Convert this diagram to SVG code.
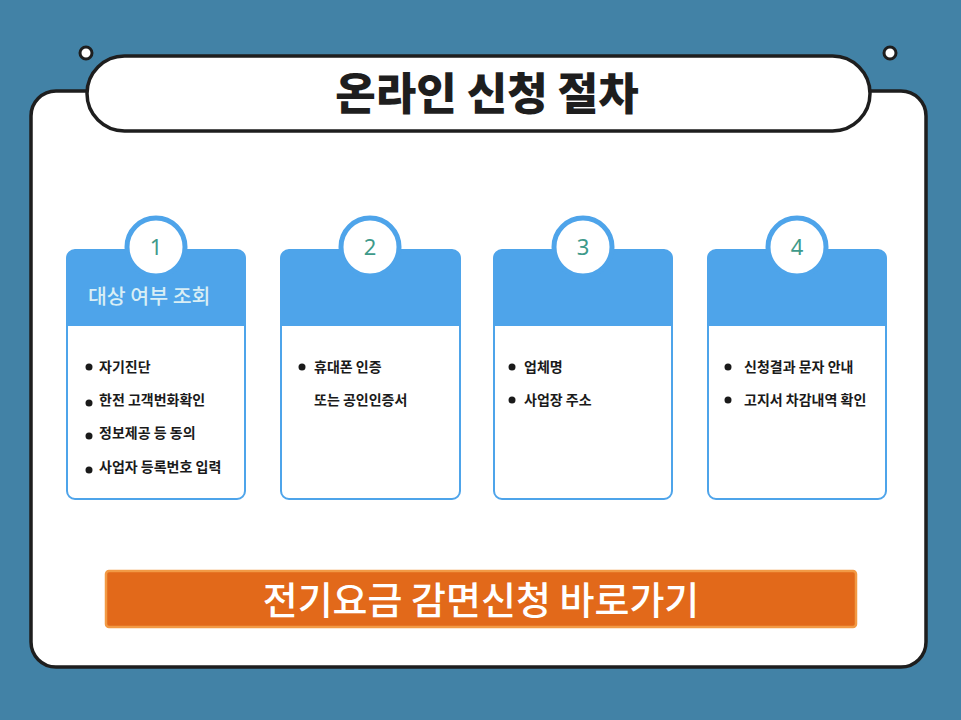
<svg xmlns="http://www.w3.org/2000/svg" width="961" height="720" viewBox="0 0 961 720">
<style>
.card{fill:#fff;stroke:#4EA4EA;stroke-width:2}
.hdr{fill:#4EA4EA}
.num{font-family:"Noto Sans",sans-serif;font-size:22px;fill:#3E9A8A;text-anchor:middle}
.it{font-family:"Noto Sans CJK KR",sans-serif;font-size:14px;font-weight:700;fill:#1a1a1a}
.ring{fill:#fff;stroke:#4EA4EA;stroke-width:5}
</style>
<rect width="961" height="720" fill="#4282A6"/>
<g id="panel"><rect x="31" y="91" width="895" height="576" rx="25" fill="#fff" stroke="#1e1e1e" stroke-width="3.5"/></g>
<g id="title">
<circle cx="86" cy="53" r="6" fill="#fff" stroke="#1e1e1e" stroke-width="3"/>
<circle cx="890" cy="53" r="6" fill="#fff" stroke="#1e1e1e" stroke-width="3"/>
<rect x="87" y="56" width="783" height="75" rx="37.5" fill="#fff" stroke="#1e1e1e" stroke-width="3.5"/>
<text x="487" y="110" font-family="Noto Sans CJK KR,sans-serif" font-size="44" font-weight="900" fill="#1e1e1e" text-anchor="middle">온라인 신청 절차</text>
</g>
<g id="card1">
<rect class="card" x="67" y="250" width="178" height="249" rx="8"/>
<path class="hdr" d="M67 326V258a8 8 0 0 1 8-8h162a8 8 0 0 1 8 8v68z"/>
<circle class="ring" cx="156" cy="247" r="29"/>
<text class="num" x="156" y="255">1</text>
<text x="88" y="304" font-family="Noto Sans CJK KR,sans-serif" font-size="20.5" font-weight="500" fill="#D8EEF5">대상 여부 조회</text>
<g class="it"><circle cx="89" cy="367" r="3.5"/><text x="99" y="372">자기진단</text>
<circle cx="89" cy="403" r="3.5"/><text x="99" y="405">한전 고객번화확인</text>
<circle cx="89" cy="436" r="3.5"/><text x="99" y="438">정보제공 등 동의</text>
<circle cx="89" cy="470" r="3.5"/><text x="99" y="472">사업자 등록번호 입력</text></g>
</g>
<g id="card2">
<rect class="card" x="281" y="250" width="179" height="249" rx="8"/>
<path class="hdr" d="M281 326V258a8 8 0 0 1 8-8h163a8 8 0 0 1 8 8v68z"/>
<circle class="ring" cx="370" cy="247" r="29"/>
<text class="num" x="370" y="255">2</text>
<g class="it"><circle cx="302" cy="367" r="3.5"/><text x="314" y="372">휴대폰 인증</text>
<text x="314" y="405">또는 공인인증서</text></g>
</g>
<g id="card3">
<rect class="card" x="494" y="250" width="178" height="249" rx="8"/>
<path class="hdr" d="M494 326V258a8 8 0 0 1 8-8h162a8 8 0 0 1 8 8v68z"/>
<circle class="ring" cx="583" cy="247" r="29"/>
<text class="num" x="583" y="255">3</text>
<g class="it"><circle cx="512" cy="367" r="3.5"/><text x="524" y="372">업체명</text>
<circle cx="512" cy="400" r="3.5"/><text x="524" y="405">사업장 주소</text></g>
</g>
<g id="card4">
<rect class="card" x="708" y="250" width="178" height="249" rx="8"/>
<path class="hdr" d="M708 326V258a8 8 0 0 1 8-8h162a8 8 0 0 1 8 8v68z"/>
<circle class="ring" cx="797" cy="247" r="29"/>
<text class="num" x="797" y="255">4</text>
<g class="it"><circle cx="728" cy="367" r="3.5"/><text x="744" y="372">신청결과 문자 안내</text>
<circle cx="728" cy="400" r="3.5"/><text x="744" y="405">고지서 차감내역 확인</text></g>
</g>
<g id="button">
<rect x="106" y="571" width="750" height="56" rx="3" fill="#E2691A" stroke="#F29A45" stroke-width="2.5"/>
<text x="481" y="614" font-family="Noto Sans CJK KR,sans-serif" font-size="38" font-weight="500" fill="#fff" text-anchor="middle">전기요금 감면신청 바로가기</text>
</g>
<g id="connectors"/>
</svg>
